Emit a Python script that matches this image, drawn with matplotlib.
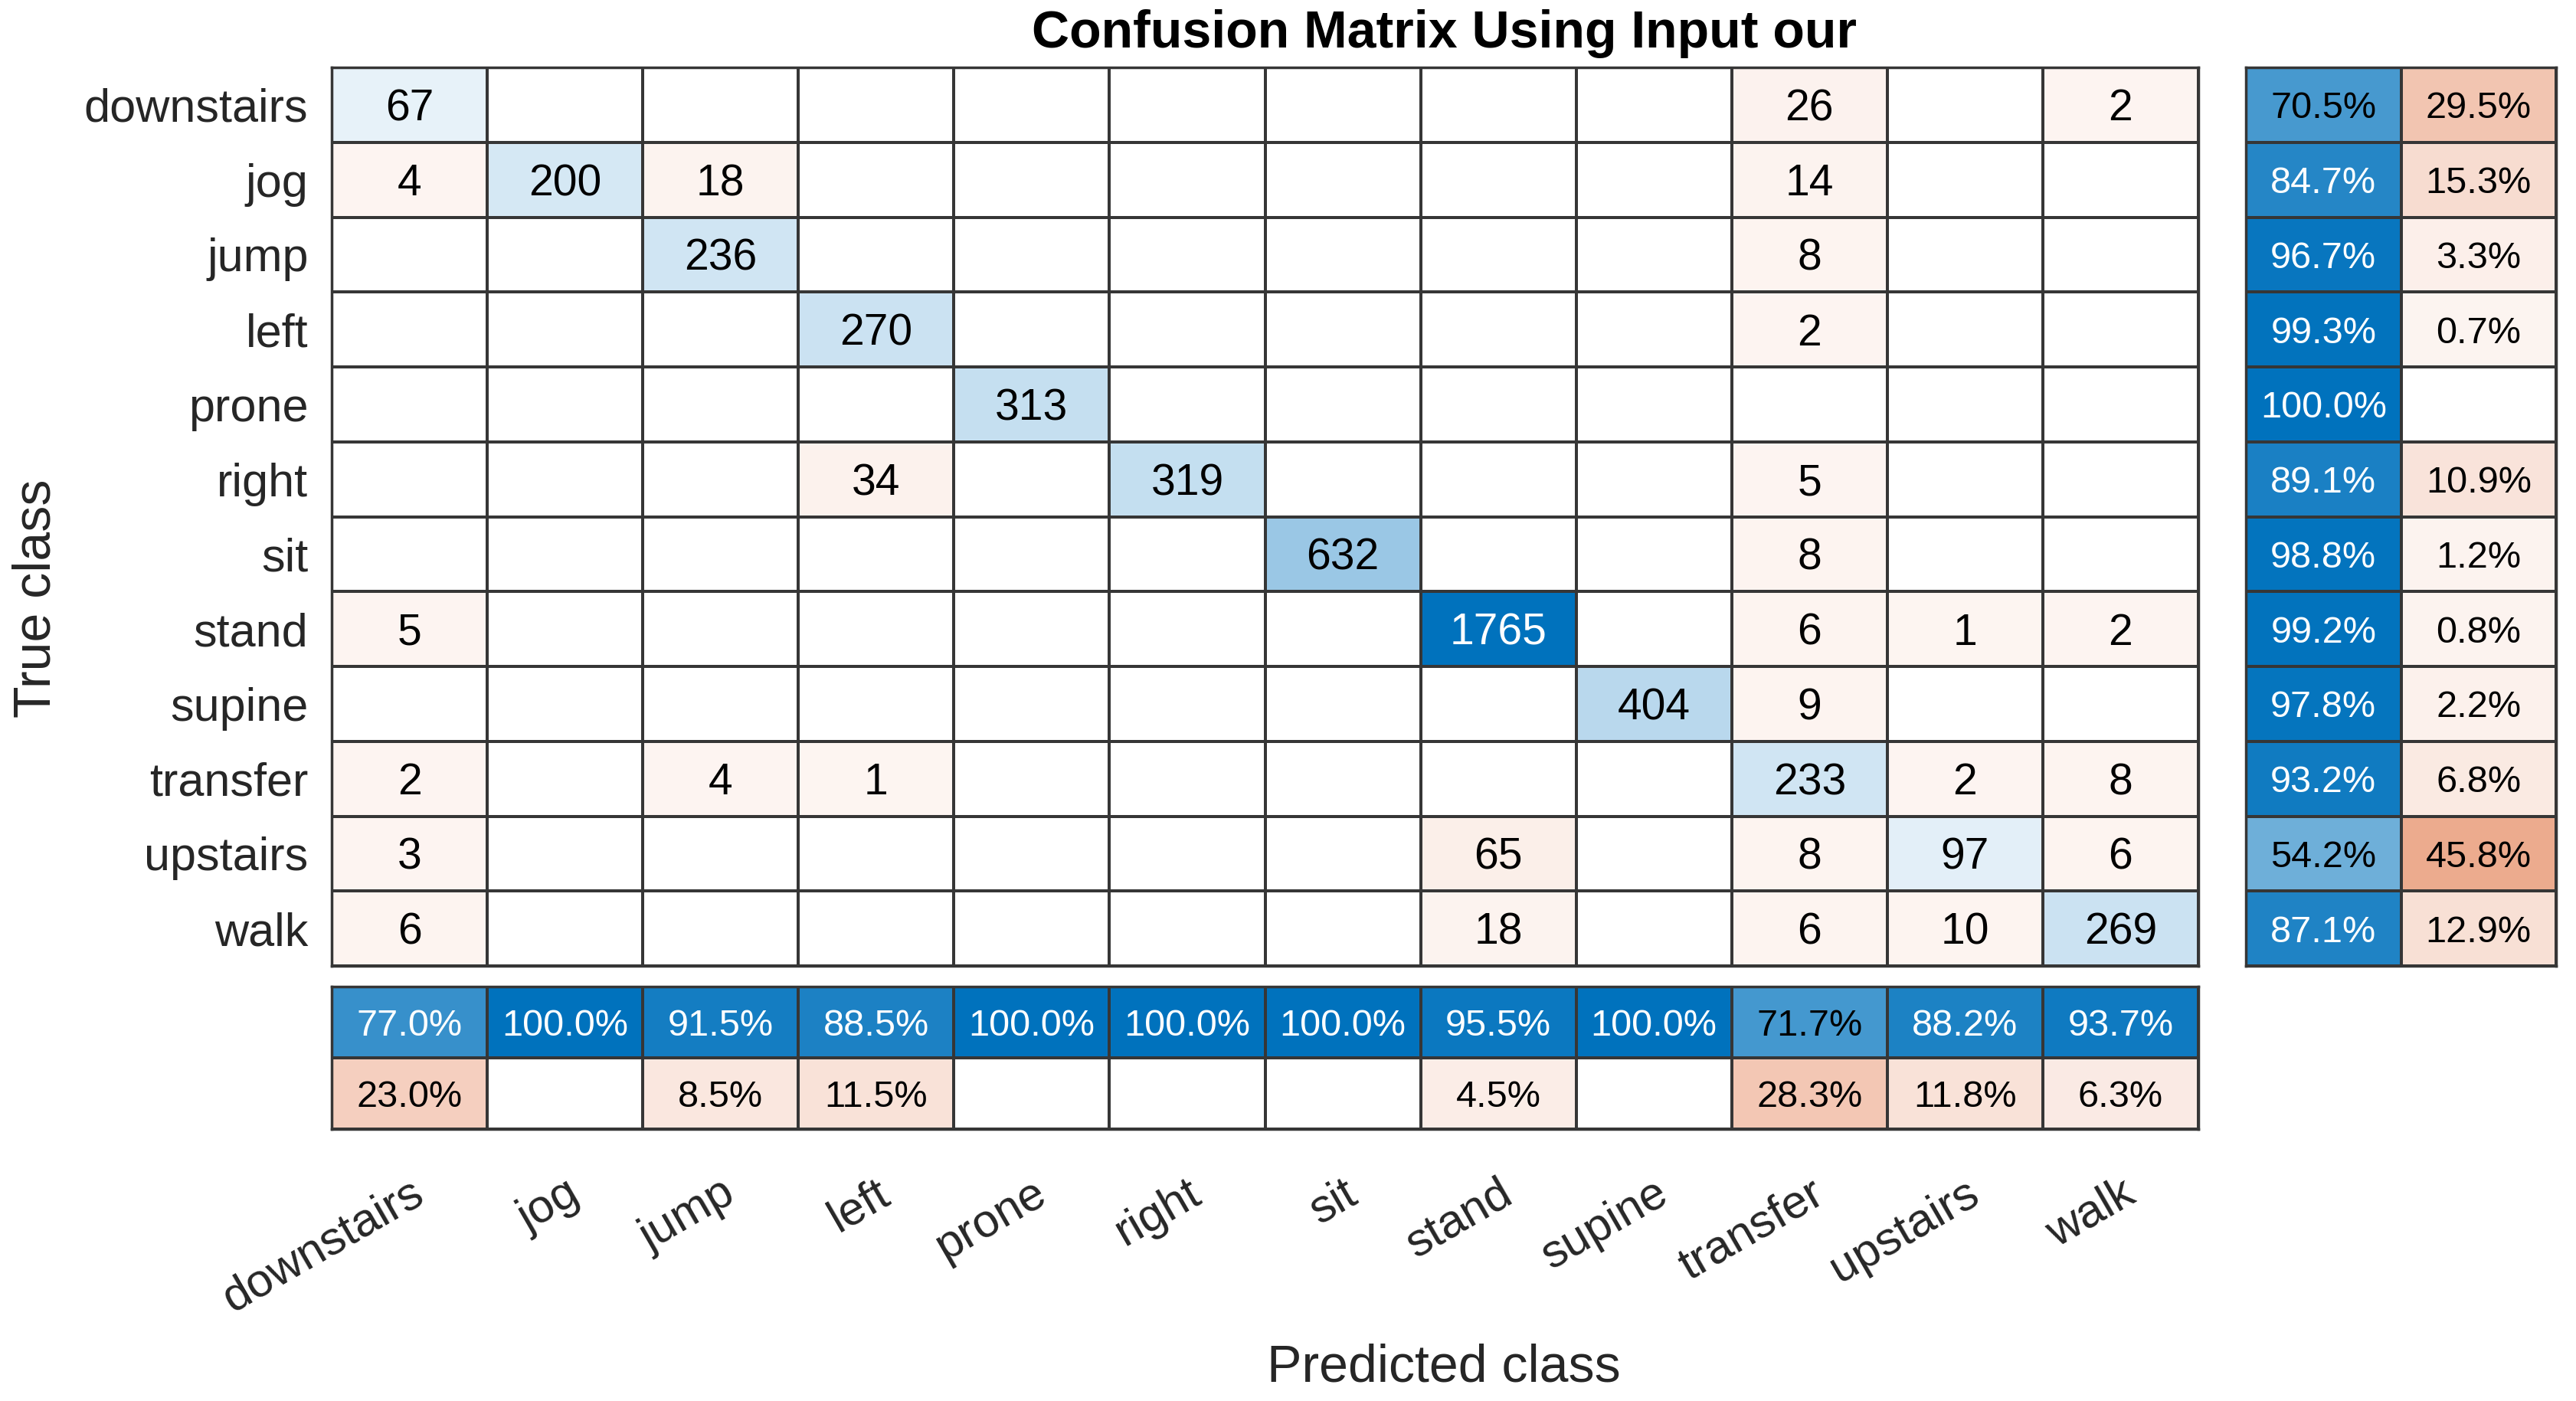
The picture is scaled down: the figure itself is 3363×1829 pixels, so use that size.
import numpy as np
import matplotlib
matplotlib.use("Agg")
import matplotlib.pyplot as plt
from matplotlib.transforms import offset_copy

classes = ['downstairs', 'jog', 'jump', 'left', 'prone', 'right', 'sit',
           'stand', 'supine', 'transfer', 'upstairs', 'walk']

counts = [
    [67, 0, 0, 0, 0, 0, 0, 0, 0, 26, 0, 2],
    [4, 200, 18, 0, 0, 0, 0, 0, 0, 14, 0, 0],
    [0, 0, 236, 0, 0, 0, 0, 0, 0, 8, 0, 0],
    [0, 0, 0, 270, 0, 0, 0, 0, 0, 2, 0, 0],
    [0, 0, 0, 0, 313, 0, 0, 0, 0, 0, 0, 0],
    [0, 0, 0, 34, 0, 319, 0, 0, 0, 5, 0, 0],
    [0, 0, 0, 0, 0, 0, 632, 0, 0, 8, 0, 0],
    [5, 0, 0, 0, 0, 0, 0, 1765, 0, 6, 1, 2],
    [0, 0, 0, 0, 0, 0, 0, 0, 404, 9, 0, 0],
    [2, 0, 4, 1, 0, 0, 0, 0, 0, 233, 2, 8],
    [3, 0, 0, 0, 0, 0, 0, 65, 0, 8, 97, 6],
    [6, 0, 0, 0, 0, 0, 0, 18, 0, 6, 10, 269],
]

row_correct_pct = [70.5, 84.7, 96.7, 99.3, 100.0, 89.1, 98.8, 99.2, 97.8, 93.2, 54.2, 87.1]
row_wrong_pct = [29.5, 15.3, 3.3, 0.7, 0.0, 10.9, 1.2, 0.8, 2.2, 6.8, 45.8, 12.9]
col_correct_pct = [77.0, 100.0, 91.5, 88.5, 100.0, 100.0, 100.0, 95.5, 100.0, 71.7, 88.2, 93.7]
col_wrong_pct = [23.0, 0.0, 8.5, 11.5, 0.0, 0.0, 0.0, 4.5, 0.0, 28.3, 11.8, 6.3]

title = 'Confusion Matrix Using Input our'
xlabel = 'Predicted class'
ylabel = 'True class'

BLUE = np.array([0, 114, 189]) / 255.0
RED = np.array([217, 83, 25]) / 255.0
EDGE = '#363636'
LABEL_C = '#262626'
FONT = 'Liberation Sans'


def shade(frac, base):
    if frac <= 0:
        return np.array([1.0, 1.0, 1.0]), 0.0
    t = 0.06 + 0.94 * min(frac, 1.0)
    return 1.0 - (1.0 - base) * t, t


W, H = 3363, 1829
fig = plt.figure(figsize=(W / 100, H / 100), dpi=100)
fig.patch.set_facecolor('white')


def fx(px):
    return px / W


def fy(py):
    return 1 - py / H


main_l, main_r, main_t, main_b = 433, 2870, 88, 1261
right_l, right_r = 2932, 3337
bot_t, bot_b = 1288, 1474

ax = fig.add_axes([fx(main_l), fy(main_b), fx(main_r - main_l), (main_b - main_t) / H])
axr = fig.add_axes([fx(right_l), fy(main_b), fx(right_r - right_l), (main_b - main_t) / H])
axb = fig.add_axes([fx(main_l), fy(bot_b), fx(main_r - main_l), (bot_b - bot_t) / H])


def draw_grid(a, colors, texts, fontsize):
    nr, nc = len(colors), len(colors[0])
    rgb = np.array([[c[0] for c in row] for row in colors])
    a.pcolormesh(np.arange(nc + 1), np.arange(nr + 1), rgb,
                 edgecolors=EDGE, linewidth=1.6, shading='flat')
    tr = offset_copy(a.transData, fig=fig, x=0, y=-0.358 * fontsize, units='points')
    for i in range(nr):
        for j in range(nc):
            s = texts[i][j]
            if s:
                tcol = 'white' if colors[i][j][1] > 0.75 else 'black'
                a.text(j + 0.5, i + 0.5, s, ha='center', va='baseline',
                       fontsize=fontsize, color=tcol, family=FONT, transform=tr)
    a.set_xlim(0, nc)
    a.set_ylim(nr, 0)
    for sp in a.spines.values():
        sp.set_color(EDGE)
        sp.set_linewidth(2.5)
    a.tick_params(length=0)


cm = np.array(counts)
vmax = cm.max()
n = len(classes)
main_colors = []
main_texts = []
for i in range(n):
    rowc, rowt = [], []
    for j in range(n):
        v = cm[i, j]
        rowc.append(shade(v / vmax, BLUE if i == j else RED))
        rowt.append(str(v) if v > 0 else '')
    main_colors.append(rowc)
    main_texts.append(rowt)
draw_grid(ax, main_colors, main_texts, 41)


def pct(v):
    return f'{v:.1f}%' if v > 0 else ''


r_colors = [[shade(row_correct_pct[i] / 100, BLUE), shade(row_wrong_pct[i] / 100, RED)] for i in range(n)]
r_texts = [[pct(row_correct_pct[i]), pct(row_wrong_pct[i])] for i in range(n)]
draw_grid(axr, r_colors, r_texts, 35)

b_colors = [[shade(col_correct_pct[j] / 100, BLUE) for j in range(n)],
            [shade(col_wrong_pct[j] / 100, RED) for j in range(n)]]
b_texts = [[pct(v) for v in col_correct_pct], [pct(v) for v in col_wrong_pct]]
draw_grid(axb, b_colors, b_texts, 35)

ax.set_yticks(np.arange(n) + 0.5)
ax.set_yticklabels(classes, fontsize=44, color=LABEL_C, family=FONT)
ax.tick_params(axis='y', pad=22)
for lbl in ax.get_yticklabels():
    lbl.set_verticalalignment('center_baseline')
ax.set_xticks([])
axr.set_xticks([]); axr.set_yticks([])
axb.set_yticks([])
axb.set_xticks(np.arange(n) + 0.5)
axb.set_xticklabels(classes, fontsize=44, color=LABEL_C, family=FONT,
                    rotation=30, ha='right', va='top', rotation_mode='anchor')
axb.tick_params(axis='x', pad=40)

fig.text(fx(1885), fy(44), title, ha='center', va='center', fontsize=49,
         fontweight='bold', color='black', family=FONT)
fig.text(fx(1885), fy(1786), xlabel, ha='center', va='center', fontsize=49,
         color=LABEL_C, family=FONT)
fig.text(fx(47), fy(781), ylabel, ha='center', va='center', fontsize=49,
         color=LABEL_C, family=FONT, rotation=90)

fig.savefig('out.png', dpi=100, facecolor='white')
